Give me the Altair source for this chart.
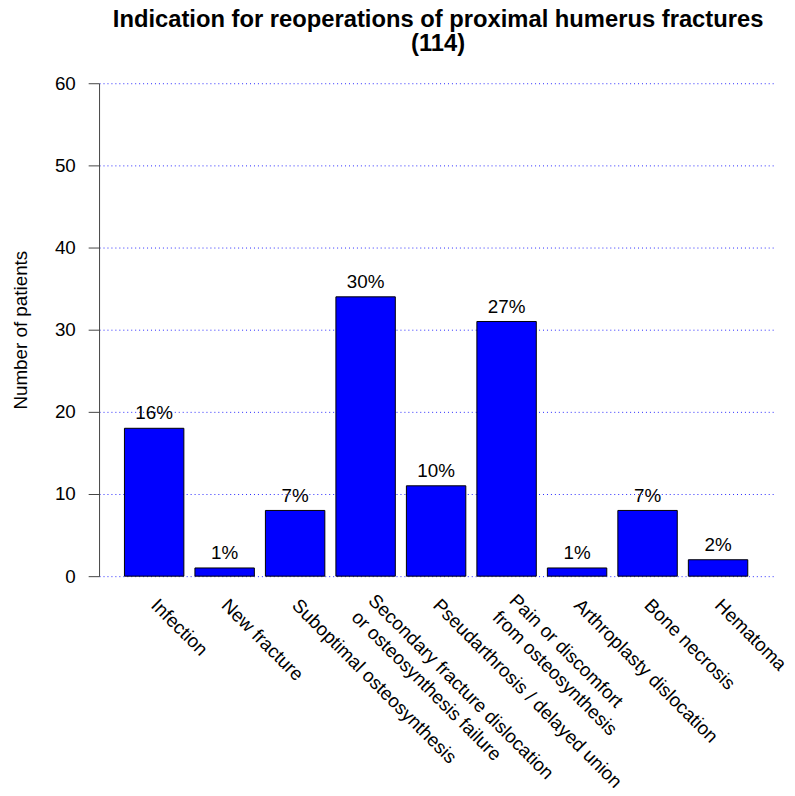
import altair as alt
import pandas as pd

categories = [
    "Infection",
    "New fracture",
    "Suboptimal osteosynthesis",
    "Secondary fracture dislocation\nor osteosynthesis failure",
    "Pseudarthrosis / delayed union",
    "Pain or discomfort\nfrom osteosynthesis",
    "Arthroplasty dislocation",
    "Bone necrosis",
    "Hematoma",
]
counts = [18, 1, 8, 34, 11, 31, 1, 8, 2]
pct_labels = ["16%", "1%", "7%", "30%", "10%", "27%", "1%", "7%", "2%"]
y_ticks = [0, 10, 20, 30, 40, 50, 60]
title_lines = ["Indication for reoperations of proximal humerus fractures", "(114)"]

df = pd.DataFrame({"cat": categories, "n": counts, "pct": pct_labels})

FONT = "Liberation Sans"
MULTI = "indexof(datum.value, '\\n') >= 0"

x_enc = alt.X(
    "cat:N",
    sort=categories,
    scale=alt.Scale(paddingInner=0.157, paddingOuter=0.36),
    axis=alt.Axis(
        title=None,
        domain=False,
        ticks=False,
        labelAngle=45,
        labelAlign="left",
        labelBaseline="middle",
        labelPadding={"condition": {"test": MULTI, "value": 21}, "value": 26},
        labelOffset={"condition": {"test": MULTI, "value": 6}, "value": 0},
        labelFontSize=19,
        labelFont=FONT,
        labelColor="black",
        labelLimit=0,
        labelOverlap=False,
        labelLineHeight=24,
        labelExpr="split(datum.label, '\\n')",
    ),
)

y_enc = alt.Y(
    "n:Q",
    scale=alt.Scale(domain=[0, 60], nice=False),
    axis=alt.Axis(
        title="Number of patients",
        values=y_ticks,
        grid=True,
        gridColor="#0000ff",
        gridDash=[1, 3],
        gridWidth=1,
        gridOpacity=0.85,
        domainColor="#444444",
        domainWidth=1,
        tickColor="#444444",
        tickSize=11,
        tickWidth=1,
        labelPadding=13,
        labelFontSize=19,
        labelFont=FONT,
        labelColor="black",
        titleFont=FONT,
        titleFontSize=19,
        titleFontWeight="normal",
        titleColor="black",
        titleX=-73,
        titleY=249,
        titleAngle=270,
        titleAlign="center",
        titleBaseline="alphabetic",
    ),
)

bars = alt.Chart(df).mark_bar(color="#0000ff", stroke="black", strokeWidth=1).encode(
    x=x_enc, y=y_enc
)

labels = alt.Chart(df).mark_text(
    dy=-9, baseline="alphabetic", fontSize=19, font=FONT, color="black"
).encode(x=alt.X("cat:N", sort=categories), y=alt.Y("n:Q"), text="pct:N")

chart = (
    alt.layer(bars, labels)
    .properties(
        width=681,
        height=498,
        autosize=alt.AutoSizeParams(type="none"),
        padding={"left": 92, "top": 72, "right": 14, "bottom": 210},
        title=alt.TitleParams(
            text=title_lines,
            font=FONT,
            fontSize=24,
            fontWeight="bold",
            color="black",
            anchor="middle",
            frame="group",
            lineHeight=24,
            offset=19,
            dx=2,
        ),
    )
    .configure_view(stroke=None)
)

chart.save("out.html", embed_options={"renderer": "svg", "actions": False})
